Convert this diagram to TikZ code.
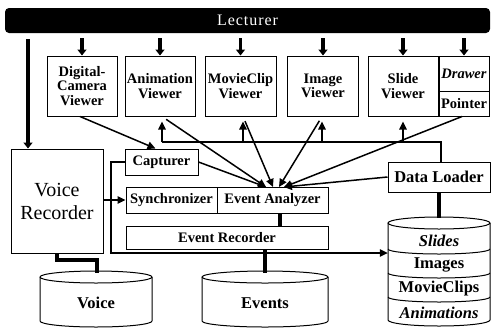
\documentclass[tikz,border=0pt]{standalone}
\usepackage{fontspec}
\setmainfont{Liberation Serif}
\usetikzlibrary{arrows.meta,calc}
\begin{document}
\begin{tikzpicture}[x=1pt,y=-1pt,
  box/.style={draw,line width=1pt,inner sep=0pt,align=center,
    font=\bfseries\fontsize{14.5}{14.5}\selectfont},
  txt/.style={inner sep=0pt,align=center,font=\bfseries\fontsize{16.5}{16.5}\selectfont},
  conn/.style={line width=1.5pt},
  arr/.style={conn,-{Triangle[length=8pt,width=7.5pt]}},
  fat/.style={line width=3.8pt,-{Triangle[length=6pt,width=9pt]}},
  fatline/.style={line width=3.8pt},
  outl/.style={line width=1pt}]
\path[fill=white] (0,0) rectangle (494,327);
\useasboundingbox (0,0) rectangle (494,327);
% Lecturer bar
\node[fill=black,rounded corners=4pt,minimum width=485pt,minimum height=25pt,inner sep=0pt,
  text=white,font=\fontsize{16}{16}\selectfont\addfontfeature{LetterSpace=6}] (lect) at (247.5,20.5) {Lecturer};
% viewers
\node[box,minimum width=70pt,minimum height=60pt] (dc) at (82,86) {Digital-\\Camera\\Viewer};
\node[box,minimum width=70pt,minimum height=60pt] (anim) at (160,86) {Animation\\Viewer};
\node[box,minimum width=71pt,minimum height=60pt] (mc) at (240.5,86) {MovieClip\\Viewer};
\node[box,minimum width=71pt,minimum height=60pt] (img) at (323,86) {Image\\Viewer};
\node[box,minimum width=70pt,minimum height=60pt] (sld) at (403,86) {Slide\\Viewer};
\node[box,minimum width=50pt,minimum height=35pt,font=\bfseries\itshape\fontsize{14.5}{14.5}\selectfont] (drw) at (464,73.5) {Drawer};
\node[box,minimum width=50pt,minimum height=25pt] (ptr) at (464,103.5) {Pointer};
% lecturer arrows
\foreach \n in {dc,anim,mc,img,sld,drw}
  \draw[fat,shorten <=5pt] (lect.south -| \n.north) -- (\n.north);
% voice recorder
\node[box,minimum width=92pt,minimum height=104pt,font=\fontsize{20}{23}\selectfont] (vr) at (57,201) {Voice\\Recorder};
\coordinate (la) at (28,33);
\draw[fat,line width=4.5pt,shorten <=6pt] (la) -- (la |- vr.north);
% central components
\node[box,minimum width=73pt,minimum height=26pt] (cap) at (161.5,162) {Capturer};
\node[box,minimum width=91pt,minimum height=26pt] (sync) at (171.5,200) {Synchronizer};
\node[box,minimum width=111pt,minimum height=26pt] (ea) at (272.5,200) {Event Analyzer};
\node[box,minimum width=202pt,minimum height=23pt] (er) at (227,237.5) {Event Recorder};
\node[box,minimum width=102pt,minimum height=30pt,font=\bfseries\fontsize{16.5}{16.5}\selectfont] (dl) at (439,177) {Data Loader};
% cylinders
\node[txt] (voice) at (96,303) {Voice};
\node[txt] (events) at (265,303) {Events};
\draw[outl] (96,277) ellipse [x radius=56pt,y radius=6pt];
\draw[outl] (40,277) -- (40,321) arc[start angle=180,end angle=360,x radius=56pt,y radius=6pt] -- (152,277);
\draw[outl] (265,277) ellipse [x radius=63pt,y radius=6pt];
\draw[outl] (202,277) -- (202,321) arc[start angle=180,end angle=360,x radius=63pt,y radius=6pt] -- (328,277);
% database
\node[minimum width=102pt,minimum height=104pt,inner sep=0pt] (db) at (439,272) {};
\draw[outl] (439,223) ellipse [x radius=51pt,y radius=6pt];
\draw[outl] (388,223) -- (388,320) arc[start angle=180,end angle=360,x radius=51pt,y radius=6pt] -- (490,223);
\foreach \yy in {249,273,297}
  \draw[outl] (388,\yy) arc[start angle=180,end angle=360,x radius=51pt,y radius=5pt];
\node[txt,font=\bfseries\itshape\fontsize{16.5}{16.5}\selectfont] (slides) at (439,241) {Slides};
\node[txt] (images) at (439,265) {Images};
\node[txt] (movies) at (439,289) {MovieClips};
\node[txt,font=\bfseries\itshape\fontsize{16.5}{16.5}\selectfont] (anims) at (439,313) {Animations};
% thick links
\coordinate (ve1) at (57,260);
\coordinate (ve2) at (97,260);
\draw[fatline] (vr.south) -- (ve1) -- (ve2) -- (ve2 |- 0,273);
\draw[fatline] (ea.south -| 280,0) -- (er.north -| 280,0);
\draw[fatline] (er.south -| events) -- (events |- 0,273);
\draw[fatline] (dl.south) -- (dl.south |- 0,218);
% frame line to database
\coordinate (fl) at (111,253);
\draw[arr,line width=1.2pt] (cap.west) -| (fl) -- (db.west |- fl);
% voice to synchronizer
\draw[arr] (vr.east |- sync.west) -- (sync.west);
% data loader bus
\coordinate (b1) at (162,142);
\coordinate (b2) at (243,142);
\coordinate (b3) at (322,142);
\coordinate (b4) at (403,142);
\draw[conn] (dl.north -| 441,0) |- (b1);
\draw[arr,shorten >=5pt] (b1) -- (b1 |- anim.south);
\draw[arr,shorten >=5pt] (b2) -- (b2 |- mc.south);
\draw[arr,shorten >=5pt] (b3) -- (b3 |- img.south);
\draw[arr,shorten >=5pt] (b4) -- (b4 |- sld.south);
% to capturer
\draw[arr] ($(dc.south)+(-2,0)$) -- ($(cap.north)+(-6,0)$);
% into event analyzer
\coordinate (t1) at (266,187);
\coordinate (t2) at (273,187);
\coordinate (t3) at (279,187);
\coordinate (t4) at (284,187);
\draw[arr] (cap.east) -- (t1);
\draw[arr,shorten <=5pt] (b1 |- anim.south) -- (t1);
\draw[arr,shorten <=5pt] (b2 |- mc.south) -- (t2);
\draw[arr,shorten <=5pt] (b3 |- img.south) -- (t3);
\draw[arr] ($(ptr.south)+(-2,0)$) -- (t4);
\draw[arr] (dl.west) -- (t4);
\end{tikzpicture}
\end{document}
